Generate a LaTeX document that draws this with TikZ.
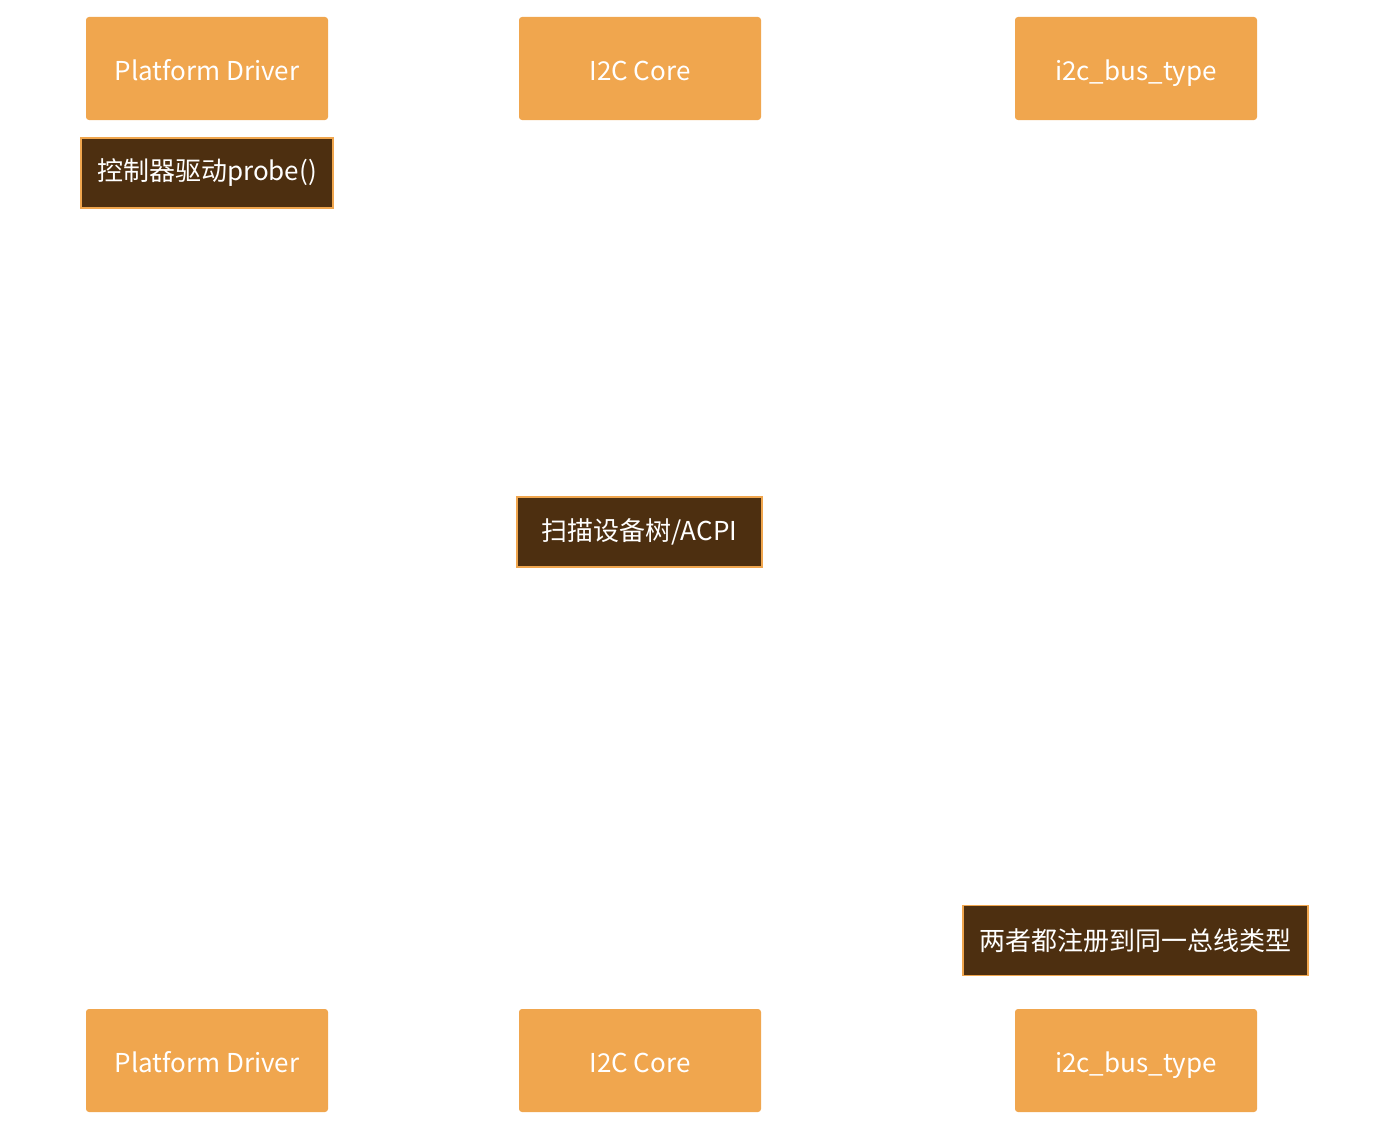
\documentclass[tikz,border=0pt]{standalone}
\usepackage{fontspec}
\setmainfont{Noto Sans CJK SC}
\usepackage{tikz}
\usetikzlibrary{positioning, shapes}
\definecolor{actorfill}{HTML}{F0A64E}
\definecolor{notefill}{HTML}{4D2F10}

\tikzset{
	actor/.style={rectangle, rounded corners=3pt, fill=actorfill, draw=none,
	  minimum width=242pt, minimum height=103pt, text height=25pt, text depth=1pt,
	  text=white, font=\fontsize{26}{30}\selectfont},
	notebox/.style={rectangle, fill=notefill, draw=actorfill, line width=1.5pt,
	  minimum height=70pt, text=white, font=\fontsize{26}{30}\selectfont}
}

\begin{document}
\begin{tikzpicture}[x=1pt, y=-1pt]

		\useasboundingbox (0,0) rectangle (1390,1132);

		% participants, top row
		\node[actor] (pdtop) at (207,68.5) {Platform Driver};
		\node[actor] (coretop) at (640,68.5) {I2C Core};
		\node[actor] (bustop) at (1136,68.5) {i2c\_bus\_type};

		% notes
		\node[notebox, minimum width=252pt] (probe) at (207,173) {控制器驱动probe()};
		\node[notebox, minimum width=245pt] (scan) at (639.5,532) {扫描设备树/ACPI};
		\node[notebox, minimum width=345pt] (samebus) at (1135.5,940.5) {两者都注册到同一总线类型};

		% participants, bottom row
		\node[actor] (pdbot) at (207,1060.5) {Platform Driver};
		\node[actor] (corebot) at (640,1060.5) {I2C Core};
		\node[actor] (busbot) at (1136,1060.5) {i2c\_bus\_type};

\end{tikzpicture}
\end{document}
